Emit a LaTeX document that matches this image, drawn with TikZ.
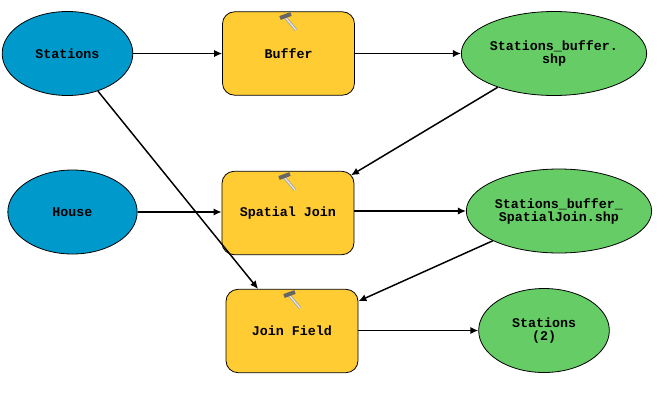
\documentclass[tikz,border=0pt]{standalone}
\usepackage{fontspec}
\setmonofont{Liberation Mono}
\usepackage{tikz}
\usetikzlibrary{shapes.geometric}
\usetikzlibrary{arrows.meta}
\definecolor{inputblue}{RGB}{0,153,204}
\definecolor{toolyellow}{RGB}{255,204,51}
\definecolor{outgreen}{RGB}{102,204,102}
\tikzset{
    every node/.style={font=\ttfamily\bfseries\fontsize{10pt}{9.75pt}\selectfont,align=center,draw=black,line width=0.6pt},
    inputnode/.style={ellipse,fill=inputblue,minimum width=98pt,minimum height=63pt,inner sep=0pt},
    outnode/.style={ellipse,fill=outgreen,minimum width=98pt,minimum height=63pt,inner sep=0pt},
    toolnode/.style={rectangle,rounded corners=9pt,fill=toolyellow,minimum width=99pt,minimum height=62.5pt,inner sep=0pt},
    flow/.style={draw=black,line width=1.1pt,-{Latex[length=6pt,width=5.5pt]}},
    hammer/.pic={
        \draw[gray!70,line width=2.2pt] (-3,-3) -- (8,10);
        \draw[gray!15,line width=0.8pt] (-3,-3) -- (8,10);
        \draw[black!60,line width=3pt] (-8,-2) -- (3,-6);
    }
}
\begin{document}
\begin{tikzpicture}[x=0.75pt,y=-0.75pt]
    \useasboundingbox (0,0) rectangle (670,400);
    %inputs
    \node[inputnode] (stations) at (67.5,53.5) {Stations};
    \node[inputnode,minimum width=97pt] (house) at (72.5,212) {House};
    %tools
    \node[toolnode] (buffer) at (288.5,53.5) {Buffer};
    \node[toolnode] (spatial) at (288,213) {Spatial Join};
    \node[toolnode] (joinfield) at (292,331) {Join Field};
    %hammers
    \pic at (288,20) {hammer};
    \pic at (287,180) {hammer};
    \pic at (292,298) {hammer};
    %outputs
    \node[outnode,minimum width=139pt] (bufout) at (554,53.5) {Stations\_buffer.\\shp};
    \node[outnode,minimum width=139pt] (spatout) at (559,211) {Stations\_buffer\_\\SpatialJoin.shp};
    \node[outnode] (final) at (544,330.5) {Stations\\(2)};
    %flows
    \draw[flow] (stations) -- (buffer);
    \draw[flow] (buffer) -- (bufout);
    \draw[flow,shorten >=-3pt] (bufout) -- (spatial);
    \draw[flow] (house) -- (house -| spatial.west);
    \draw[flow] (spatout -| spatial.east) -- (spatout);
    \draw[flow] (spatout) -- (joinfield);
    \draw[flow] (stations) -- (joinfield);
    \draw[flow] (final -| joinfield.east) -- (final);
\end{tikzpicture}
\end{document}
